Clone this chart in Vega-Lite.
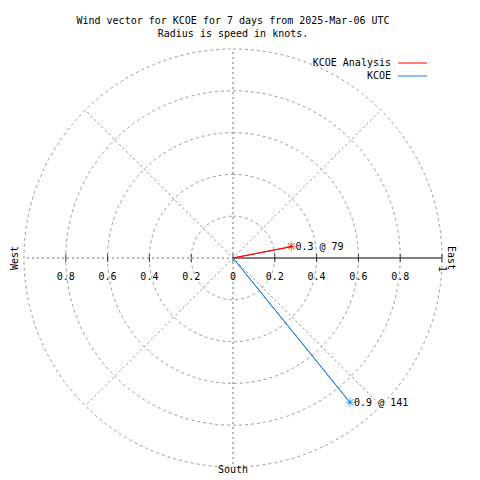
{
  "$schema": "https://vega.github.io/schema/vega-lite/v6.json",
  "width": 466,
  "height": 444,
  "autosize": "none",
  "padding": {"left": 0, "top": 36, "right": 14, "bottom": 0},
  "background": "white",
  "config": {"view": {"stroke": null}, "font": "DejaVu Sans Mono", "text": {"font": "DejaVu Sans Mono", "fontSize": 10, "color": "black"}},
  "title": {
    "text": ["Wind vector for KCOE for 7 days from 2025-Mar-06 UTC", "Radius is speed in knots."],
    "font": "DejaVu Sans Mono",
    "fontSize": 10,
    "fontWeight": "normal",
    "color": "black",
    "anchor": "middle",
    "lineHeight": 13,
    "offset": -3
  },
  "datasets": {
    "rings": [{"r": 0.2}, {"r": 0.4}, {"r": 0.6}, {"r": 0.8}, {"r": 1.0}],
    "spokes": [{"deg": 0}, {"deg": 45}, {"deg": 135}, {"deg": 180}, {"deg": 225}, {"deg": 270}, {"deg": 315}],
    "ticks": [
      {"v": -0.8, "lab": "0.8"}, {"v": -0.6, "lab": "0.6"}, {"v": -0.4, "lab": "0.4"}, {"v": -0.2, "lab": "0.2"},
      {"v": 0, "lab": "0"}, {"v": 0.2, "lab": "0.2"}, {"v": 0.4, "lab": "0.4"}, {"v": 0.6, "lab": "0.6"},
      {"v": 0.8, "lab": "0.8"}, {"v": 1.0, "lab": "1"}
    ],
    "wind": [
      {"station": "KCOE Analysis", "speed": 0.285, "dir": 79, "label": "0.3 @ 79"},
      {"station": "KCOE", "speed": 0.89, "dir": 141, "label": "0.9 @ 141"}
    ],
    "one": [{}]
  },
  "layer": [
    {
      "data": {"name": "rings"},
      "mark": {"type": "arc", "filled": false, "stroke": "#9a9a9a", "strokeWidth": 1, "strokeDash": [3, 3], "theta": 0, "theta2": 6.2832},
      "encoding": {
        "radius": {"field": "r", "type": "quantitative", "stack": null, "scale": {"type": "linear", "domain": [0, 1], "range": [0, 209], "zero": true}}
      }
    },
    {
      "data": {"name": "spokes"},
      "mark": {"type": "arc", "filled": false, "stroke": "#a0a0a0", "strokeWidth": 1, "strokeDash": [2, 3], "strokeDashOffset": 2},
      "encoding": {
        "theta": {"field": "deg", "type": "quantitative", "stack": null, "scale": {"type": "linear", "domain": [0, 360], "range": [0, 6.283185307]}},
        "theta2": {"field": "deg"},
        "radius": {"datum": 1, "type": "quantitative"}
      }
    },
    {
      "data": {"name": "one"},
      "mark": {"type": "rule", "color": "black", "strokeWidth": 1},
      "encoding": {
        "x": {"datum": 0, "type": "quantitative", "axis": null, "scale": {"domain": [-1.1148, 1.1148], "nice": false, "zero": false}},
        "x2": {"datum": 1},
        "y": {"datum": 0, "type": "quantitative", "axis": null, "scale": {"domain": [-1.0622, 1.0622], "nice": false, "zero": false}}
      }
    },
    {
      "data": {"name": "ticks"},
      "mark": {"type": "tick", "orient": "vertical", "size": 8, "thickness": 1, "color": "black"},
      "encoding": {
        "x": {"field": "v", "type": "quantitative"},
        "y": {"datum": 0, "type": "quantitative"}
      }
    },
    {
      "data": {"name": "ticks"},
      "transform": [{"filter": "datum.v < 1"}],
      "mark": {"type": "text", "baseline": "middle", "align": "center", "dy": 19},
      "encoding": {
        "x": {"field": "v", "type": "quantitative"},
        "y": {"datum": 0, "type": "quantitative"},
        "text": {"field": "lab"}
      }
    },
    {
      "data": {"name": "ticks"},
      "transform": [{"filter": "datum.v >= 1"}],
      "mark": {"type": "text", "baseline": "middle", "align": "center", "angle": 90, "dx": 11},
      "encoding": {
        "x": {"field": "v", "type": "quantitative"},
        "y": {"datum": 0, "type": "quantitative"},
        "text": {"field": "lab"}
      }
    },
    {
      "data": {"name": "wind"},
      "mark": {"type": "arc", "filled": false, "strokeWidth": 1},
      "encoding": {
        "theta": {"field": "dir", "type": "quantitative", "stack": null},
        "theta2": {"field": "dir"},
        "radius": {"field": "speed", "type": "quantitative", "stack": null},
        "color": {
          "field": "station",
          "type": "nominal",
          "scale": {"domain": ["KCOE Analysis", "KCOE"], "range": ["#ff0000", "#1e7fe6"]},
          "legend": {
            "title": null,
            "orient": "none",
            "legendX": 407,
            "legendY": 21.5,
            "symbolType": "M-2.9,0L2.9,0",
            "symbolSize": 100,
            "symbolStrokeWidth": 1,
            "labelAlign": "right",
            "labelOffset": -27,
            "labelFont": "DejaVu Sans Mono",
            "labelFontSize": 10,
            "labelColor": "black",
            "labelLimit": 300,
            "rowPadding": 2,
            "padding": 0,
            "encode": {"symbols": {"update": {"stroke": {"scale": "color", "field": "value"}, "strokeOpacity": {"value": 1}, "fill": {"value": "transparent"}}}}
          }
        }
      }
    },
    {
      "data": {"name": "wind"},
      "mark": {"type": "text", "font": "DejaVu Sans", "fontSize": 13, "align": "center", "baseline": "middle"},
      "encoding": {
        "theta": {"field": "dir", "type": "quantitative", "stack": null},
        "radius": {"field": "speed", "type": "quantitative", "stack": null},
        "text": {"value": "✳"},
        "color": {"field": "station", "type": "nominal"}
      }
    },
    {
      "data": {"name": "wind"},
      "mark": {"type": "text", "align": "left", "baseline": "middle", "dx": 4},
      "encoding": {
        "theta": {"field": "dir", "type": "quantitative", "stack": null},
        "radius": {"field": "speed", "type": "quantitative", "stack": null},
        "text": {"field": "label"}
      }
    },
    {
      "data": {"name": "one"},
      "mark": {"type": "text", "align": "center", "baseline": "middle", "angle": 270},
      "encoding": {
        "x": {"datum": -1.043, "type": "quantitative"},
        "y": {"datum": 0, "type": "quantitative"},
        "text": {"value": "West"}
      }
    },
    {
      "data": {"name": "one"},
      "mark": {"type": "text", "align": "center", "baseline": "middle", "angle": 90},
      "encoding": {
        "x": {"datum": 1.043, "type": "quantitative"},
        "y": {"datum": 0, "type": "quantitative"},
        "text": {"value": "East"}
      }
    },
    {
      "data": {"name": "one"},
      "mark": {"type": "text", "align": "center", "baseline": "middle"},
      "encoding": {
        "x": {"datum": 0, "type": "quantitative"},
        "y": {"datum": -1.014, "type": "quantitative"},
        "text": {"value": "South"}
      }
    }
  ]
}
